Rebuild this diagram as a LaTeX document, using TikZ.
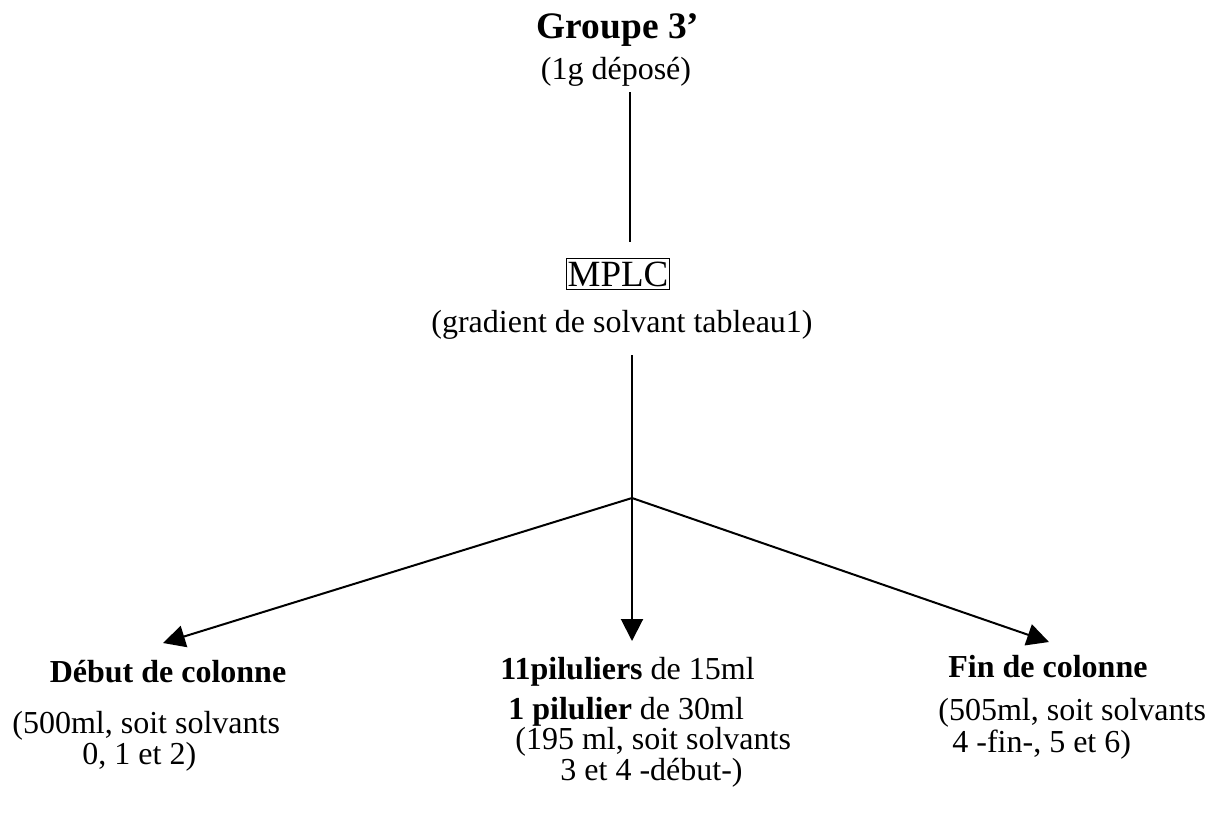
\documentclass[tikz,border=0pt]{standalone}
\usepackage{fontspec}
\setmainfont{Liberation Serif}
\usetikzlibrary{arrows.meta}
\begin{document}
\begin{tikzpicture}[x=0.5pt,y=-0.5pt,
  txt/.style={inner sep=0pt,font=\fontsize{16}{19}\selectfont},
  ttl/.style={inner sep=0pt,font=\fontsize{18.7}{22}\selectfont\bfseries},
  conn/.style={line width=1pt},
  arr/.style={conn,-{Triangle[length=11pt,width=11pt]}}]
\useasboundingbox (0,0) rectangle (1212,816);
\node[ttl] (title) at (618,30) {Groupe 3’};
\node[txt] (dep) at (616,72) {(1g déposé)};
\node[draw,line width=0.7pt,inner xsep=0.6pt,inner ysep=1.5pt,font=\fontsize{18.5}{22}\selectfont] (mplc) at (618,274) {MPLC};
\node[txt] (grad) at (622,325) {(gradient de solvant tableau1)};
\coordinate (t1) at (630,92);
\coordinate (t2) at (630,242);
\coordinate (m1) at (632,355);
\coordinate (br) at (632,498);
% bottom texts
\node[ttl,font=\fontsize{16}{19}\selectfont\bfseries] (deb) at (168,672) {Début de colonne};
\node[txt,anchor=west] (deb1) at (12,726) {(500ml, soit solvants};
\node[txt,anchor=west] (deb2) at (82,757) {0, 1 et 2)};
\node[txt,anchor=west] (mid) at (500,672) {\textbf{11piluliers} de 15ml};
\node[txt,anchor=west] (mid1) at (508,712) {\textbf{1 pilulier} de 30ml};
\node[txt,anchor=west] (mid2) at (515,742) {(195 ml, soit solvants};
\node[txt,anchor=west] (mid3) at (560,773) {3 et 4 -début-)};
\node[txt,anchor=west,font=\fontsize{16}{19}\selectfont\bfseries] (fin) at (948,667) {Fin de colonne};
\node[txt,anchor=west] (fin1) at (938,713) {(505ml, soit solvants};
\node[txt,anchor=west] (fin2) at (952,745) {4 -fin-, 5 et 6)};
\coordinate (la) at (163,643);
\coordinate (ma) at (632,641);
\coordinate (ra) at (1049,642);
\draw[conn] (t1) -- (t2);
\draw[arr] (m1) -- (ma);
\draw[arr] (br) -- (la);
\draw[arr] (br) -- (ra);
\end{tikzpicture}
\end{document}
